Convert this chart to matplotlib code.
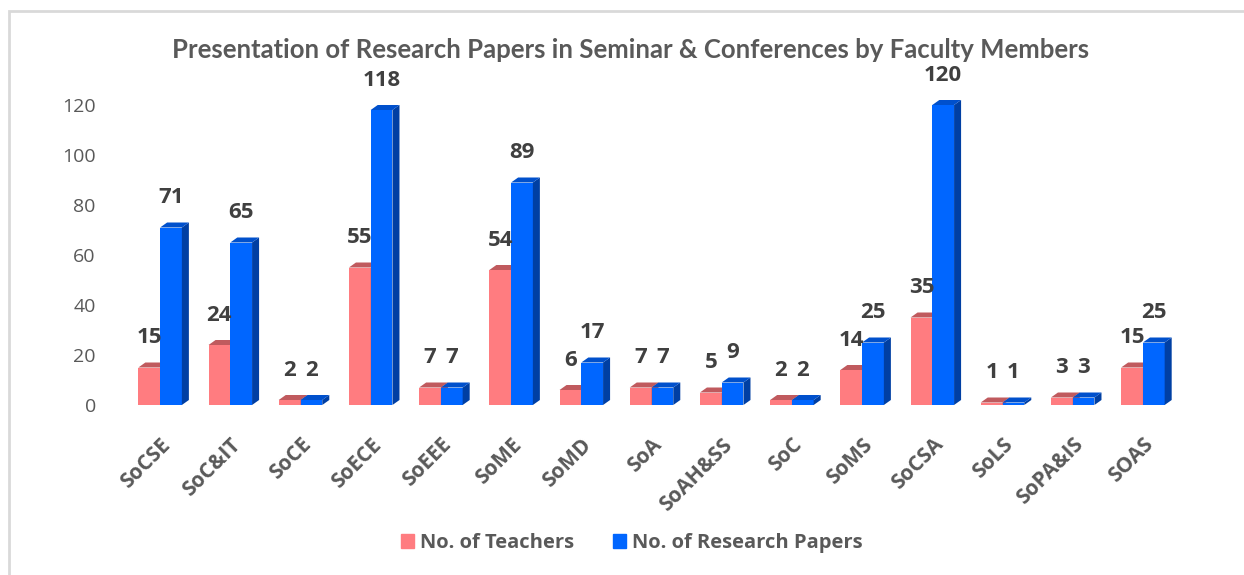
import matplotlib
matplotlib.use("Agg")
import matplotlib.pyplot as plt
from matplotlib.patches import Polygon, Rectangle
from matplotlib.transforms import ScaledTranslation
import numpy as np

schools = ["SoCSE", "SoC&IT", "SoCE", "SoECE", "SoEEE", "SoME", "SoMD", "SoA",
           "SoAH&SS", "SoC", "SoMS", "SoCSA", "SoLS", "SoPA&IS", "SOAS"]
teachers = [15, 24, 2, 55, 7, 54, 6, 7, 5, 2, 14, 35, 1, 3, 15]
papers = [71, 65, 2, 118, 7, 89, 17, 7, 9, 2, 25, 120, 1, 3, 25]

plt.rcParams["font.family"] = ["Open Sans", "DejaVu Sans"]
grey = "#595959"
dark = "#404040"

fig = plt.figure(figsize=(12.44, 5.75), dpi=100)
ax = fig.add_axes([125 / 1244, 1 - 405 / 575, (1178 - 125) / 1244, 325 / 575])

# chart border
fig.patches.append(Rectangle((8.5 / 1244, -0.1), 1.2, 1 - 10.5 / 575 + 0.1,
                             transform=fig.transFigure, fill=False,
                             edgecolor="#d9d9d9", linewidth=2, zorder=0))

x = np.arange(len(schools))
w = 0.31
dx, dy = 0.1, 2.0


def bars_3d(xpos, vals, front, side, top, z):
    rects = ax.bar(xpos, vals, width=w, align="edge", color=front, zorder=z)
    for r in rects:
        x0, h, bw = r.get_x(), r.get_height(), r.get_width()
        ax.add_patch(Polygon([(x0 + bw, 0), (x0 + bw + dx, dy), (x0 + bw + dx, h + dy), (x0 + bw, h)],
                             closed=True, color=side, zorder=z, linewidth=0))
        ax.add_patch(Polygon([(x0, h), (x0 + dx, h + dy), (x0 + bw + dx, h + dy), (x0 + bw, h)],
                             closed=True, color=top, zorder=z, linewidth=0))
    return rects


r1 = bars_3d(x - w, teachers, "#ff7c80", "#c85a5e", "#c05a5e", 2)
r2 = bars_3d(x, papers, "#0066ff", "#003fa3", "#0050cc", 3)

for rects, vals in [(r1, teachers), (r2, papers)]:
    for r, v in zip(rects, vals):
        ax.annotate(str(v), (r.get_x() + r.get_width() / 2, r.get_height()),
                    xytext=(0, 14), textcoords="offset points", ha="center", va="bottom",
                    fontsize=16, fontweight="bold", color=dark, zorder=5)

ax.set_xlim(-0.5, len(schools) - 0.5)
ax.set_ylim(0, 130)
ax.set_yticks(range(0, 121, 20))
ax.set_xticks(x)
ax.set_xticklabels(schools, rotation=45, ha="right", rotation_mode="anchor",
                   fontsize=15, fontweight="bold", color=grey)
shift = ScaledTranslation(-7 / 100, 0, fig.dpi_scale_trans)
for lbl in ax.get_xticklabels():
    lbl.set_transform(lbl.get_transform() + shift)
ax.tick_params(axis="y", labelsize=14, labelcolor=grey, length=0, pad=21)
ax.tick_params(axis="x", length=0, pad=21)
for s in ax.spines.values():
    s.set_visible(False)

fig.text(631 / 1244, 1 - 50 / 575, "Presentation of Research Papers in Seminar & Conferences by Faculty Members",
         ha="center", va="center", fontsize=18.5, fontweight="bold", color=grey, family="Lato")

handles = [Rectangle((0, 0), 1, 1, color="#ff7c80"), Rectangle((0, 0), 1, 1, color="#0066ff")]
fig.legend(handles, ["No. of Teachers", "No. of Research Papers"], loc="center",
           bbox_to_anchor=(632 / 1244, 1 - 543 / 575), ncol=2, frameon=False,
           prop={"size": 14.5, "weight": "bold"}, labelcolor=grey,
           handlelength=0.65, handleheight=0.65, handletextpad=0.3, columnspacing=1.9)

plt.savefig("out.png", dpi=100)
